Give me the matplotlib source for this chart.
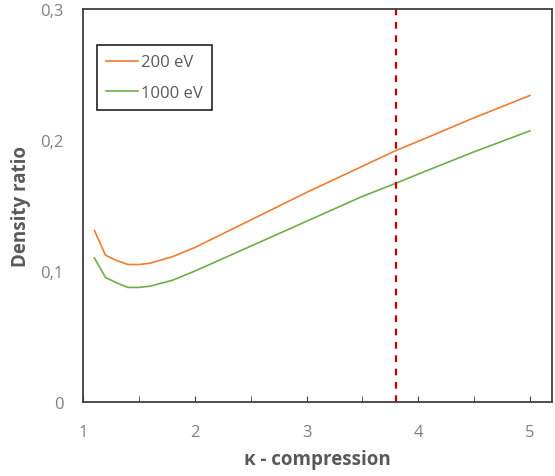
import numpy as np
import matplotlib.pyplot as plt
from matplotlib.ticker import MultipleLocator, FuncFormatter

plt.rcParams['font.family'] = ['Open Sans', 'DejaVu Sans']

# kappa - compression
kappa = [1.1, 1.2, 1.3, 1.4, 1.5, 1.6, 1.8, 2.0, 2.5, 3.0, 3.5, 3.8, 4.0, 4.5, 5.0]
# density ratio at 200 eV
ratio_200 = [0.131, 0.112, 0.108, 0.105, 0.105, 0.106, 0.111, 0.118, 0.139, 0.160, 0.180, 0.192, 0.199, 0.217, 0.234]
# density ratio at 1000 eV
ratio_1000 = [0.110, 0.095, 0.091, 0.0875, 0.0875, 0.0885, 0.093, 0.100, 0.119, 0.138, 0.157, 0.167, 0.174, 0.191, 0.207]
kappa_mark = 3.8

fig = plt.figure(figsize=(5.55, 4.77), dpi=100)
ax = fig.add_axes([0.15, 0.155, 0.845, 0.824])

ax.plot(kappa, ratio_200, color='#ED7D31', lw=1.2, label='200 eV')
ax.plot(kappa, ratio_1000, color='#70AD47', lw=1.2, label='1000 eV')
ax.axvline(kappa_mark, color='#C00000', lw=1.6, ls=(0, (3, 3)))

ax.set_xlim(1, 5.2)
ax.set_ylim(0, 0.3)
ax.xaxis.set_major_locator(MultipleLocator(1))
ax.xaxis.set_minor_locator(MultipleLocator(0.5))
ax.yaxis.set_major_locator(MultipleLocator(0.1))
ax.yaxis.set_major_formatter(FuncFormatter(lambda v, p: '0' if abs(v) < 1e-9 else f'{v:.1f}'.replace('.', ',')))

ax.tick_params(axis='x', which='both', direction='in', length=4, color='#404040', labelsize=12, labelcolor='#808080', pad=16)
ax.tick_params(axis='y', length=0, labelsize=12, labelcolor='#808080', pad=14)

for s in ax.spines.values():
    s.set_color('#404040')
    s.set_linewidth(1.3)

ax.set_xlabel('κ - compression', fontsize=13.5, fontweight='bold', color='#595959', labelpad=6)
ax.set_ylabel('Density ratio', fontsize=13.5, fontweight='bold', color='#595959', labelpad=7)

leg = ax.legend(loc='upper left', bbox_to_anchor=(0.03, 0.908), fontsize=12, handlelength=1.9,
                handletextpad=0.15, fancybox=False, framealpha=1, edgecolor='#222222',
                borderpad=0.55, borderaxespad=0, labelspacing=0.85)
leg.get_frame().set_linewidth(1.2)
for t in leg.get_texts():
    t.set_color('#595959')

fig.savefig('out.png', dpi=100)
